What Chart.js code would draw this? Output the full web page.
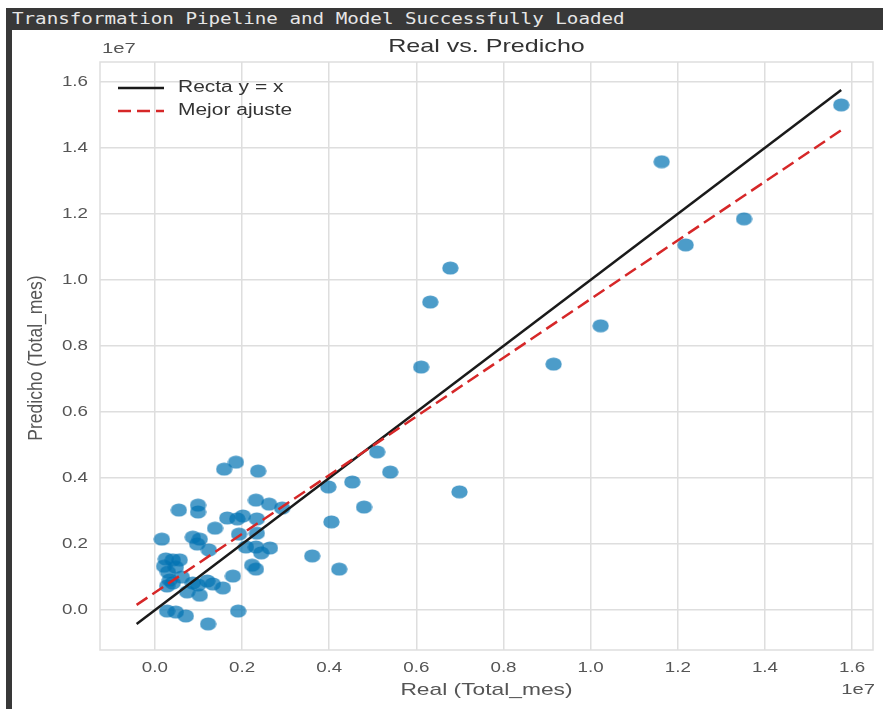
<!DOCTYPE html>
<html>
<head>
<meta charset="utf-8">
<script src="https://cdn.jsdelivr.net/npm/chart.js@4"></script>
<style>
    html, body { margin: 0; padding: 0; background: #ffffff; width: 883px; height: 709px; overflow: hidden; }
    #header {
        position: absolute; left: 6px; top: 8px; width: 877px; height: 22px;
        background: #383838; overflow: hidden;
    }
    #header span {
        position: absolute; left: 6px; top: 2px;
        font-family: "DejaVu Sans Mono", monospace; font-size: 15px; color: #e6e6e6;
        transform: scaleX(1.28); transform-origin: left top; white-space: nowrap;
    }
    #strip { position: absolute; left: 6px; top: 30px; width: 6px; height: 679px; background: #383838; }
    #wrap { position: absolute; left: 12px; top: 30px; width: 871px; height: 679px; }
</style>
</head>
<body>
<div id="header"><span>Transformation Pipeline and Model Successfully Loaded</span></div>
<div id="strip"></div>
<div id="wrap"><canvas id="scatter-chart" width="871" height="679"></canvas></div>
<script>
// Values (units: Total_mes)
const realValues = [
    15.75e6, 11.63e6, 13.52e6, 12.18e6, 6.78e6, 6.32e6, 10.23e6, 9.15e6, 6.11e6, 6.99e6,
    5.10e6, 5.40e6, 4.53e6, 3.98e6, 4.80e6, 4.05e6, 3.61e6, 4.23e6,
    1.86e6, 1.59e6, 2.37e6, 0.55e6, 0.99e6, 0.99e6, 2.32e6, 2.62e6, 2.92e6, 1.66e6,
    1.89e6, 2.02e6, 2.34e6, 1.38e6, 0.16e6, 0.87e6, 1.03e6, 0.97e6, 1.24e6, 1.93e6,
    2.09e6, 2.34e6, 2.32e6, 2.44e6, 2.64e6, 0.25e6, 0.41e6, 0.57e6, 0.21e6, 0.48e6,
    0.30e6, 2.23e6, 2.32e6, 1.79e6, 0.62e6, 0.41e6, 0.28e6, 0.87e6, 1.20e6, 1.33e6,
    0.74e6, 1.56e6, 1.03e6, 0.28e6, 0.48e6, 0.71e6, 1.91e6, 1.22e6, 0.34e6, 0.99e6
];
const predValues = [
    15.30e6, 13.58e6, 11.85e6, 11.06e6, 10.36e6, 9.33e6, 8.61e6, 7.45e6, 7.36e6, 3.58e6,
    4.79e6, 4.18e6, 3.88e6, 3.73e6, 3.12e6, 2.67e6, 1.64e6, 1.24e6,
    4.48e6, 4.27e6, 4.21e6, 3.03e6, 3.18e6, 2.97e6, 3.33e6, 3.21e6, 3.09e6, 2.79e6,
    2.76e6, 2.85e6, 2.76e6, 2.48e6, 2.15e6, 2.21e6, 2.15e6, 2.00e6, 1.82e6, 2.30e6,
    1.91e6, 2.33e6, 1.91e6, 1.73e6, 1.88e6, 1.55e6, 1.52e6, 1.52e6, 1.33e6, 1.30e6,
    1.15e6, 1.36e6, 1.24e6, 1.03e6, 1.00e6, 0.82e6, 0.73e6, 0.82e6, 0.88e6, 0.79e6,
    0.55e6, 0.67e6, 0.45e6, -0.03e6, -0.06e6, -0.18e6, -0.03e6, -0.42e6, 0.91e6, 0.76e6
];

// Best fit line
const fitSlope = 0.889;
const fitIntercept = 0.53e6;

const tickValues = [0, 2e6, 4e6, 6e6, 8e6, 10e6, 12e6, 14e6, 16e6];
const xRange = [-1.26e6, 16.48e6];
const yRange = [-1.21e6, 16.6e6];

const colors = {
    points: 'rgba(0, 114, 178, 0.7)',
    identity: '#1a1a1a',
    fit: '#d62728',
    grid: '#dedede',
    tick: '#555555',
    text: '#333333'
};

const fitDash = [13, 6];
const fontFamily = '"Liberation Sans", Arial, sans-serif';

// y = x line spans the data range
const lo = Math.min(...realValues, ...predValues);
const hi = Math.max(...realValues, ...predValues);

const scatterData = realValues.map((x, i) => ({ x: x, y: predValues[i] }));
const identityData = [{ x: lo, y: lo }, { x: hi, y: hi }];
const fitData = [lo, hi].map(x => ({ x: x, y: fitSlope * x + fitIntercept }));

const tickLabel = v => (v / 1e7).toFixed(1);

// markers are a little wider than tall in the reference
function makeMarker() {
    const c = document.createElement('canvas');
    c.width = 17;
    c.height = 14;
    const g = c.getContext('2d');
    g.fillStyle = colors.points;
    g.beginPath();
    g.ellipse(8.5, 7, 8.2, 6.6, 0, 0, Math.PI * 2);
    g.fill();
    return c;
}

// the reference figure is stretched sideways, so text is too
function wideText(ctx, text, x, y, size, sx, align, color) {
    ctx.save();
    ctx.translate(x, y);
    ctx.scale(sx, 1);
    ctx.font = size + 'px ' + fontFamily;
    ctx.fillStyle = color;
    ctx.textAlign = align;
    ctx.textBaseline = 'middle';
    ctx.fillText(text, 0, 0);
    ctx.restore();
}

// Titles, tick labels, offset labels, frame and legend drawn like matplotlib
const decorPlugin = {
    id: 'decor',
    beforeDatasetsDraw(chart) {
        const { ctx, chartArea: a } = chart;
        ctx.save();
        ctx.strokeStyle = colors.grid;
        ctx.lineWidth = 1.5;
        ctx.strokeRect(a.left, a.top, a.right - a.left, a.bottom - a.top);
        ctx.restore();
    },
    afterDraw(chart) {
        const { ctx, chartArea: a, scales } = chart;
        const midX = (a.left + a.right) / 2;

        wideText(ctx, 'Real vs. Predicho', midX, 17, 19, 1.32, 'center', colors.text);
        wideText(ctx, 'Real (Total_mes)', midX, 660, 17, 1.34, 'center', colors.tick);
        wideText(ctx, '1e7', a.left + 2, 19, 15, 1.35, 'left', colors.tick);
        wideText(ctx, '1e7', a.right + 2, 660, 15, 1.35, 'right', colors.tick);

        tickValues.forEach(v => {
            wideText(ctx, tickLabel(v), scales.x.getPixelForValue(v), 638, 15, 1.25, 'center', colors.tick);
            wideText(ctx, tickLabel(v), a.left - 12, scales.y.getPixelForValue(v), 15, 1.25, 'right', colors.tick);
        });

        ctx.save();
        ctx.translate(25, (a.top + a.bottom) / 2 + 2);
        ctx.rotate(-Math.PI / 2);
        ctx.scale(1, 1.12);
        ctx.fillStyle = colors.tick;
        ctx.font = '17.5px ' + fontFamily;
        ctx.textAlign = 'center';
        ctx.textBaseline = 'middle';
        ctx.fillText('Predicho (Total_mes)', 0, 0);
        ctx.restore();

        // legend
        const items = [
            { label: 'Recta y = x', color: colors.identity, dash: [] },
            { label: 'Mejor ajuste', color: colors.fit, dash: fitDash }
        ];
        items.forEach((item, i) => {
            const y = a.top + 26 + i * 23;
            ctx.save();
            ctx.beginPath();
            ctx.setLineDash(item.dash);
            ctx.strokeStyle = item.color;
            ctx.lineWidth = 2.5;
            ctx.moveTo(a.left + 18, y);
            ctx.lineTo(a.left + 64, y);
            ctx.stroke();
            ctx.restore();
            wideText(ctx, item.label, a.left + 78, y, 16, 1.31, 'left', colors.text);
        });
    }
};

const keepTicks = scale => {
    scale.ticks = tickValues.map(v => ({ value: v }));
};

const ctx = document.getElementById('scatter-chart').getContext('2d');
new Chart(ctx, {
    data: {
        datasets: [
            {
                type: 'line',
                label: 'Mejor ajuste',
                data: fitData,
                borderColor: colors.fit,
                borderWidth: 2.5,
                borderDash: fitDash,
                pointRadius: 0,
                fill: false,
                order: 0
            },
            {
                type: 'line',
                label: 'Recta y = x',
                data: identityData,
                borderColor: colors.identity,
                borderWidth: 2.5,
                pointRadius: 0,
                fill: false,
                order: 1
            },
            {
                type: 'scatter',
                label: 'Datos',
                data: scatterData,
                pointStyle: makeMarker(),
                backgroundColor: colors.points,
                borderWidth: 0,
                pointRadius: 7,
                pointHoverRadius: 7,
                order: 2
            }
        ]
    },
    options: {
        responsive: false,
        animation: false,
        layout: {
            padding: { top: 32, right: 10, left: 0, bottom: 0 }
        },
        plugins: {
            legend: { display: false },
            tooltip: { enabled: false },
            title: { display: false }
        },
        scales: {
            x: {
                type: 'linear',
                min: xRange[0],
                max: xRange[1],
                afterBuildTicks: keepTicks,
                afterFit: scale => { scale.height = 59; },
                border: { display: false },
                grid: {
                    color: colors.grid,
                    lineWidth: 1.5,
                    drawTicks: false
                },
                ticks: { display: false }
            },
            y: {
                type: 'linear',
                min: yRange[0],
                max: yRange[1],
                afterBuildTicks: keepTicks,
                afterFit: scale => { scale.width = 88; },
                border: { display: false },
                grid: {
                    color: colors.grid,
                    lineWidth: 1.5,
                    drawTicks: false
                },
                ticks: { display: false }
            }
        }
    },
    plugins: [decorPlugin]
});
</script>
</body>
</html>
